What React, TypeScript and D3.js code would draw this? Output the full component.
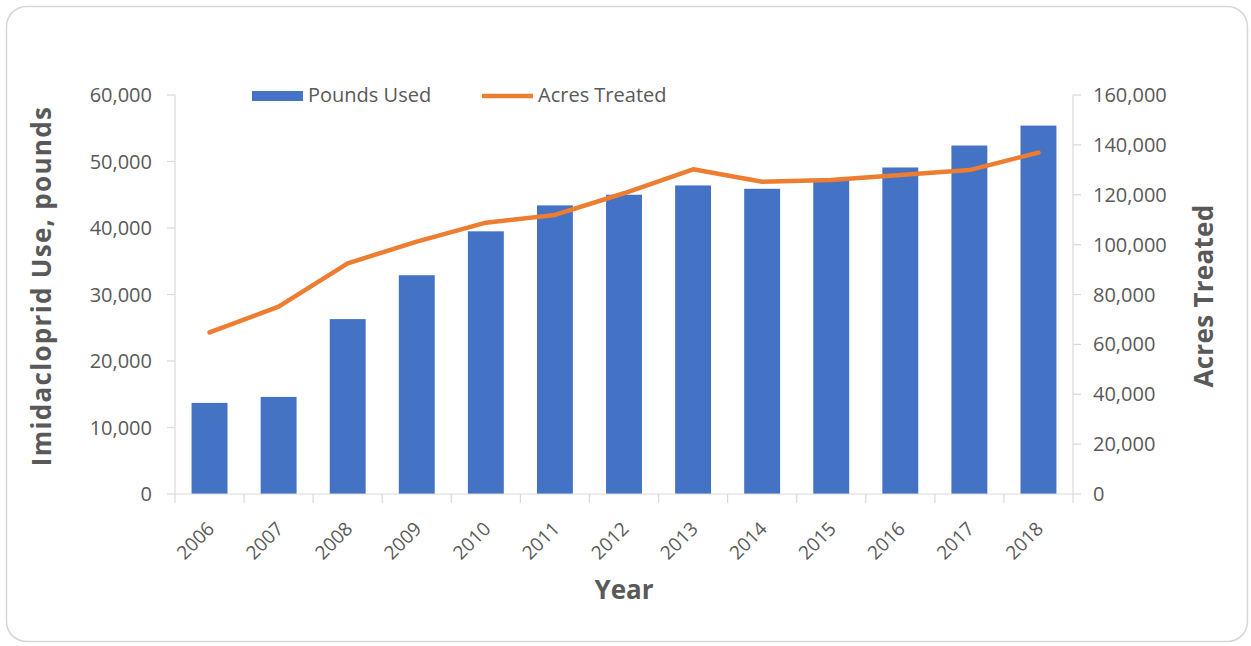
import React from "react";
import * as d3 from "d3";

const years: string[] = ["2006", "2007", "2008", "2009", "2010", "2011", "2012", "2013", "2014", "2015", "2016", "2017", "2018"];
const poundsUsed: number[] = [13700, 14600, 26300, 32900, 39500, 43400, 45000, 46400, 45900, 47100, 49100, 52400, 55400];
const acresTreated: number[] = [64800, 75100, 92500, 101200, 108800, 111900, 120600, 130200, 125200, 125900, 127900, 129900, 136900];
const leftTicks: number[] = [0, 10000, 20000, 30000, 40000, 50000, 60000];
const rightTicks: number[] = [0, 20000, 40000, 60000, 80000, 100000, 120000, 140000, 160000];
const seriesNames: string[] = ["Pounds Used", "Acres Treated"];
const titles = { left: "Imidacloprid Use, pounds", right: "Acres Treated", x: "Year" };

const W = 1251;
const H = 646;
const plot = { left: 175, right: 1073, top: 95, bottom: 494 };
const FONT = "'Open Sans', 'Liberation Sans', sans-serif";
const TXT = "#595959";
const AXIS = "#D9D9D9";
const BLUE = "#4472C4";
const ORANGE = "#ED7D31";

export default function App() {
  const x = d3.scaleBand<string>().domain(years).range([plot.left, plot.right]).paddingInner(0.48).paddingOuter(0.24);
  const yL = d3.scaleLinear().domain([0, 60000]).range([plot.bottom, plot.top]);
  const yR = d3.scaleLinear().domain([0, 160000]).range([plot.bottom, plot.top]);
  const fmt = d3.format(",");
  const step = x.step();
  const cx = (y: string) => (x(y) as number) + x.bandwidth() / 2;
  const line = d3
    .line<number>()
    .x((_, i) => cx(years[i]))
    .y((d) => yR(d));
  const boundaries = d3.range(years.length + 1).map((i) => plot.left + i * step);

  return (
    <svg width={W} height={H} style={{ position: "absolute", left: 0, top: 0, background: "#fff" }} fontFamily={FONT}>
      <rect x={6.5} y={6.5} width={1241} height={635} rx={20} ry={20} fill="#fff" stroke="#D6D6D6" strokeWidth={1.5} />

      {/* left axis */}
      <line x1={plot.left} x2={plot.left} y1={plot.top} y2={plot.bottom} stroke={AXIS} strokeWidth={1.2} />
      {leftTicks.map((t) => (
        <g key={"l" + t}>
          <line x1={plot.left - 8} x2={plot.left} y1={yL(t)} y2={yL(t)} stroke={AXIS} strokeWidth={1.2} />
          <text x={152} y={yL(t)} dy="0.35em" textAnchor="end" fontSize={20} fill={TXT}>
            {fmt(t)}
          </text>
        </g>
      ))}

      {/* right axis */}
      <line x1={plot.right} x2={plot.right} y1={plot.top} y2={plot.bottom} stroke={AXIS} strokeWidth={1.2} />
      {rightTicks.map((t) => (
        <g key={"r" + t}>
          <line x1={plot.right} x2={plot.right + 8} y1={yR(t)} y2={yR(t)} stroke={AXIS} strokeWidth={1.2} />
          <text x={1093} y={yR(t)} dy="0.35em" textAnchor="start" fontSize={20} fill={TXT}>
            {fmt(t)}
          </text>
        </g>
      ))}

      {/* bars */}
      {poundsUsed.map((v, i) => (
        <rect key={"b" + i} x={x(years[i])} y={yL(v)} width={x.bandwidth()} height={yL(0) - yL(v)} fill={BLUE} />
      ))}

      {/* bottom axis */}
      <line x1={plot.left} x2={plot.right} y1={plot.bottom} y2={plot.bottom} stroke={AXIS} strokeWidth={1.2} />
      {boundaries.map((b, i) => (
        <line key={"t" + i} x1={b} x2={b} y1={plot.bottom} y2={plot.bottom + 9} stroke={AXIS} strokeWidth={1.2} />
      ))}
      {years.map((y) => (
        <text
          key={"x" + y}
          transform={`translate(${cx(y) + 6},${530}) rotate(-45)`}
          textAnchor="end"
          fontSize={19}
          fill={TXT}
        >
          {y}
        </text>
      ))}

      {/* line */}
      <path d={line(acresTreated) || ""} fill="none" stroke={ORANGE} strokeWidth={4.5} strokeLinejoin="round" strokeLinecap="round" />

      {/* legend */}
      <rect x={252} y={91} width={51} height={10} fill={BLUE} />
      <text x={308} y={102} fontSize={20} fill={TXT}>
        {seriesNames[0]}
      </text>
      <line x1={482} x2={533} y1={96} y2={96} stroke={ORANGE} strokeWidth={4.5} />
      <text x={538} y={102} fontSize={20} fill={TXT}>
        {seriesNames[1]}
      </text>

      {/* axis titles */}
      <text transform={`translate(51,${286}) rotate(-90)`} textAnchor="middle" fontSize={26} fontWeight="bold" letterSpacing={1.3} fill={TXT}>
        {titles.left}
      </text>
      <text transform={`translate(1213,${296}) rotate(-90)`} textAnchor="middle" fontSize={26} fontWeight="bold" letterSpacing={0.3} fill={TXT}>
        {titles.right}
      </text>
      <text x={(plot.left + plot.right) / 2} y={599} textAnchor="middle" fontSize={26} fontWeight="bold" fill={TXT}>
        {titles.x}
      </text>
    </svg>
  );
}
